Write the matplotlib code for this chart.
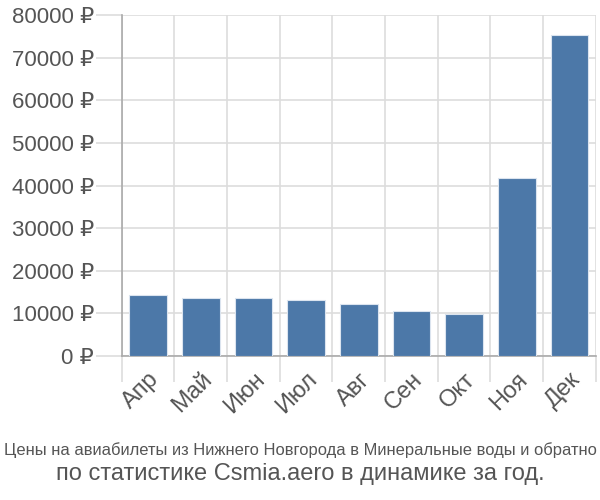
import matplotlib
matplotlib.use("Agg")
import matplotlib.pyplot as plt
from matplotlib.ticker import FuncFormatter

# data
months = ['Апр', 'Май', 'Июн', 'Июл', 'Авг', 'Сен', 'Окт', 'Ноя', 'Дек']
prices = [14300, 13600, 13500, 13100, 12200, 10600, 9900, 41800, 75300]
yticks = [0, 10000, 20000, 30000, 40000, 50000, 60000, 70000, 80000]

plt.rcParams['font.family'] = ['Liberation Sans', 'DejaVu Sans']

fig = plt.figure(figsize=(6, 5), dpi=100)
ax = fig.add_axes([0.203, 0.288, 0.79, 0.682])

x = list(range(len(months)))
ax.bar(x, prices, width=0.72, color='#4c78a8', edgecolor='#dbe4ef', linewidth=0.8, zorder=3)

ax.set_xlim(-0.5, len(months) - 0.5)
ax.set_ylim(0, 80000)
ax.set_yticks(yticks)
ax.yaxis.set_major_formatter(FuncFormatter(lambda v, p: f'{int(v)} ₽'))

# vertical grid at category boundaries, drawn as minor ticks
ax.set_xticks([i - 0.5 for i in x] + [len(months) - 0.5], minor=True)
ax.set_xticks(x)
ax.set_xticklabels(months, rotation=45, ha='right', rotation_mode='anchor')
ax.grid(True, which='minor', axis='x', color='#dddddd', linewidth=1.2, zorder=0)
ax.grid(True, which='major', axis='y', color='#dddddd', linewidth=1.2, zorder=0)

ax.tick_params(axis='x', which='major', length=0, labelsize=17, labelcolor='#555555', pad=9)
ax.tick_params(axis='x', which='minor', length=19, color='#dddddd', width=1.2)
ax.tick_params(axis='y', length=19, color='#dddddd', width=1.2, labelsize=16, labelcolor='#555555', pad=1)

for s in ['top', 'right']:
    ax.spines[s].set_visible(False)
ax.spines['left'].set_color('#aaaaaa')
ax.spines['bottom'].set_color('#aaaaaa')
ax.spines['left'].set_linewidth(1.2)
ax.spines['bottom'].set_linewidth(1.2)

fig.text(0.5, 0.1, 'Цены на авиабилеты из Нижнего Новгорода в Минеральные воды и обратно',
         ha='center', va='center', fontsize=11.9, color='#555555')
fig.text(0.5, 0.052, 'по статистике Csmia.aero в динамике за год.',
         ha='center', va='center', fontsize=17, color='#555555')

fig.savefig('out.png', dpi=100)
